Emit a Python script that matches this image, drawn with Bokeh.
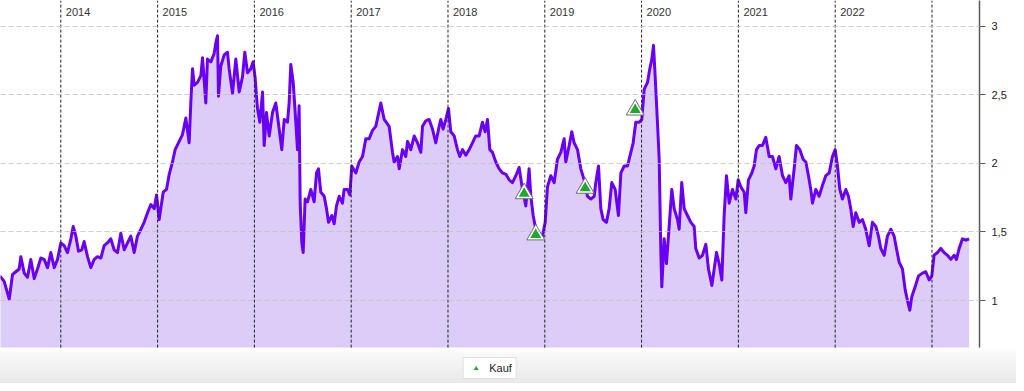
import pandas as pd
from bokeh.plotting import figure
from bokeh.models import (Range1d, FixedTicker, CustomJSTickFormatter,
                          Legend, LegendItem, ColumnDataSource)
from bokeh.core.properties import value
from bokeh.embed import file_html
from bokeh.resources import INLINE

# ---- data (time as decimal year, price) ----
times = [
    2013.370, 2013.415, 2013.467, 2013.484, 2013.501, 2013.535, 2013.570, 2013.587, 2013.622, 2013.656,
    2013.690, 2013.725, 2013.759, 2013.794, 2013.828, 2013.863, 2013.897, 2013.932, 2013.966, 2014.000,
    2014.035, 2014.069, 2014.104, 2014.128, 2014.155, 2014.183, 2014.217, 2014.241, 2014.276, 2014.310,
    2014.345, 2014.379, 2014.414, 2014.448, 2014.482, 2014.517, 2014.551, 2014.586, 2014.620, 2014.655,
    2014.689, 2014.723, 2014.758, 2014.792, 2014.827, 2014.861, 2014.896, 2014.930, 2014.965, 2014.989,
    2015.016, 2015.058, 2015.092, 2015.120, 2015.154, 2015.181, 2015.223, 2015.257, 2015.292, 2015.326,
    2015.343, 2015.361, 2015.378, 2015.412, 2015.447, 2015.464, 2015.498, 2015.515, 2015.550, 2015.584,
    2015.602, 2015.619, 2015.629, 2015.653, 2015.688, 2015.722, 2015.739, 2015.774, 2015.808, 2015.843,
    2015.877, 2015.901, 2015.929, 2015.963, 2015.987, 2016.008, 2016.032, 2016.056, 2016.084, 2016.101,
    2016.125, 2016.153, 2016.187, 2016.221, 2016.256, 2016.283, 2016.308, 2016.342, 2016.359, 2016.376,
    2016.401, 2016.428, 2016.445, 2016.462, 2016.473, 2016.490, 2016.504, 2016.524, 2016.549, 2016.583,
    2016.617, 2016.642, 2016.662, 2016.686, 2016.721, 2016.745, 2016.766, 2016.800, 2016.824, 2016.848,
    2016.876, 2016.910, 2016.927, 2016.962, 2016.986, 2017.006, 2017.048, 2017.082, 2017.117, 2017.151,
    2017.186, 2017.220, 2017.254, 2017.306, 2017.341, 2017.392, 2017.427, 2017.444, 2017.478, 2017.496,
    2017.530, 2017.564, 2017.582, 2017.616, 2017.651, 2017.685, 2017.719, 2017.737, 2017.771, 2017.805,
    2017.840, 2017.874, 2017.909, 2017.926, 2017.950, 2017.978, 2018.005, 2018.029, 2018.064, 2018.098,
    2018.122, 2018.150, 2018.184, 2018.219, 2018.253, 2018.287, 2018.322, 2018.356, 2018.384, 2018.408,
    2018.432, 2018.460, 2018.494, 2018.529, 2018.563, 2018.598, 2018.632, 2018.666, 2018.701, 2018.735,
    2018.770, 2018.804, 2018.838, 2018.856, 2018.880, 2018.907, 2018.942, 2018.976, 2019.004, 2019.028,
    2019.062, 2019.097, 2019.131, 2019.166, 2019.200, 2019.217, 2019.252, 2019.279, 2019.303, 2019.338,
    2019.372, 2019.407, 2019.441, 2019.476, 2019.510, 2019.527, 2019.555, 2019.579, 2019.603, 2019.637,
    2019.665, 2019.692, 2019.727, 2019.761, 2019.786, 2019.820, 2019.854, 2019.889, 2019.913, 2019.940,
    2019.975, 2020.002, 2020.027, 2020.061, 2020.085, 2020.106, 2020.123, 2020.140, 2020.157, 2020.182,
    2020.199, 2020.209, 2020.233, 2020.257, 2020.285, 2020.312, 2020.337, 2020.371, 2020.388, 2020.415,
    2020.440, 2020.474, 2020.509, 2020.543, 2020.560, 2020.595, 2020.629, 2020.664, 2020.691, 2020.726,
    2020.750, 2020.774, 2020.801, 2020.829, 2020.853, 2020.877, 2020.905, 2020.939, 2020.974, 2020.998,
    2021.025, 2021.060, 2021.077, 2021.104, 2021.139, 2021.163, 2021.187, 2021.215, 2021.249, 2021.283,
    2021.318, 2021.352, 2021.387, 2021.421, 2021.456, 2021.490, 2021.524, 2021.542, 2021.576, 2021.600,
    2021.635, 2021.669, 2021.697, 2021.724, 2021.748, 2021.766, 2021.800, 2021.834, 2021.869, 2021.903,
    2021.938, 2021.972, 2022.000, 2022.024, 2022.048, 2022.075, 2022.110, 2022.137, 2022.161, 2022.186,
    2022.213, 2022.248, 2022.282, 2022.316, 2022.351, 2022.385, 2022.420, 2022.447, 2022.471, 2022.506,
    2022.540, 2022.575, 2022.609, 2022.633, 2022.661, 2022.695, 2022.723, 2022.747, 2022.771, 2022.792,
    2022.826, 2022.861, 2022.902, 2022.936, 2022.971, 2022.998, 2023.022, 2023.057, 2023.091, 2023.126,
    2023.160, 2023.195, 2023.229, 2023.253, 2023.281, 2023.315, 2023.350, 2023.384,
]
prices = [
    1.18, 1.14, 1.01, 1.10, 1.19, 1.21, 1.23, 1.32, 1.20, 1.17,
    1.30, 1.16, 1.23, 1.31, 1.30, 1.24, 1.35, 1.24, 1.30, 1.42,
    1.40, 1.35, 1.45, 1.54, 1.47, 1.36, 1.37, 1.43, 1.32, 1.24,
    1.30, 1.32, 1.31, 1.40, 1.42, 1.45, 1.37, 1.35, 1.49, 1.37,
    1.42, 1.47, 1.35, 1.47, 1.52, 1.57, 1.64, 1.70, 1.67, 1.77,
    1.59, 1.79, 1.81, 1.92, 2.01, 2.10, 2.16, 2.21, 2.33, 2.15,
    2.44, 2.69, 2.57, 2.59, 2.64, 2.77, 2.44, 2.76, 2.74, 2.80,
    2.88, 2.93, 2.49, 2.71, 2.79, 2.81, 2.69, 2.51, 2.76, 2.52,
    2.63, 2.81, 2.66, 2.69, 2.74, 2.62, 2.40, 2.30, 2.52, 2.13,
    2.37, 2.20, 2.37, 2.44, 2.25, 2.10, 2.32, 2.30, 2.44, 2.72,
    2.59, 2.30, 2.10, 2.42, 1.71, 1.42, 1.35, 1.74, 1.72, 1.81,
    1.72, 1.93, 1.96, 1.79, 1.76, 1.67, 1.57, 1.62, 1.56, 1.69,
    1.76, 1.71, 1.81, 1.81, 1.77, 1.98, 1.93, 2.01, 2.05, 2.18,
    2.18, 2.24, 2.27, 2.44, 2.32, 2.27, 2.08, 2.01, 2.05, 1.96,
    2.10, 2.05, 2.16, 2.10, 2.20, 2.15, 2.08, 2.27, 2.31, 2.32,
    2.25, 2.15, 2.27, 2.32, 2.25, 2.32, 2.40, 2.23, 2.20, 2.10,
    2.05, 2.10, 2.06, 2.10, 2.15, 2.20, 2.20, 2.30, 2.23, 2.32,
    2.10, 2.08, 2.01, 1.96, 1.93, 1.92, 1.88, 1.86, 1.91, 1.97,
    1.81, 1.69, 1.96, 1.76, 1.62, 1.52, 1.47, 1.47, 1.57, 1.83,
    1.91, 1.86, 2.03, 2.08, 2.18, 2.01, 2.13, 2.23, 2.15, 2.10,
    1.96, 1.88, 1.76, 1.74, 1.76, 1.86, 1.98, 1.67, 1.59, 1.57,
    1.67, 1.86, 1.81, 1.62, 1.93, 1.98, 1.98, 2.08, 2.15, 2.30,
    2.30, 2.32, 2.54, 2.59, 2.69, 2.76, 2.86, 2.64, 2.40, 2.03,
    1.35, 1.10, 1.45, 1.27, 1.54, 1.81, 1.67, 1.59, 1.52, 1.86,
    1.67, 1.62, 1.57, 1.54, 1.38, 1.31, 1.33, 1.41, 1.23, 1.11,
    1.23, 1.35, 1.27, 1.15, 1.62, 1.91, 1.71, 1.81, 1.74, 1.88,
    1.83, 1.79, 1.64, 1.88, 1.93, 1.98, 2.10, 2.13, 2.13, 2.19,
    2.05, 2.05, 1.96, 2.05, 1.91, 1.86, 1.91, 1.74, 1.96, 2.13,
    2.10, 2.03, 2.01, 1.91, 1.81, 1.71, 1.81, 1.76, 1.84, 1.91,
    1.93, 2.05, 2.10, 1.98, 1.81, 1.74, 1.81, 1.76, 1.67, 1.54,
    1.64, 1.57, 1.59, 1.52, 1.40, 1.57, 1.54, 1.47, 1.38, 1.33,
    1.47, 1.52, 1.47, 1.38, 1.28, 1.23, 1.08, 1.00, 0.93, 1.03,
    1.10, 1.18, 1.20, 1.21, 1.15, 1.18, 1.33, 1.35, 1.38, 1.35,
    1.33, 1.30, 1.33, 1.30, 1.38, 1.45, 1.44, 1.45,
]

# Buy signals ("Kauf")
buy_times = [2018.787, 2018.907, 2019.417, 2019.934]
buy_prices = [1.78, 1.48, 1.82, 2.39]

# Year separators and labels
year_lines = [2014, 2015, 2016, 2017, 2018, 2019, 2020, 2021, 2022, 2023]
year_labels = ["2014", "2015", "2016", "2017", "2018", "2019", "2020", "2021", "2022"]

y_ticks = [1, 1.5, 2, 2.5, 3]


def to_dt(t):
    return pd.Timestamp("2014-01-01") + pd.to_timedelta((t - 2014) * 365.25, unit="D")


dates = [to_dt(t) for t in times]
buy_dates = [to_dt(t) for t in buy_times]

FONT = "Liberation Sans"
Y_TOP = 3.187      # top of plotting area
Y_BASE = 0.657     # bottom of plotting area (above legend band)
Y_LOW = 0.3955     # bottom of the frame (includes legend band)

p = figure(width=1016, height=383, output_backend="svg", toolbar_location=None,
           x_axis_type="datetime", x_axis_location=None, y_axis_location="right",
           x_range=Range1d(to_dt(2013.377), to_dt(2023.491)),
           y_range=Range1d(Y_LOW, Y_TOP),
           min_border_left=0, min_border_top=0, min_border_right=37, min_border_bottom=0)

p.outline_line_color = None
p.background_fill_alpha = 0
p.border_fill_alpha = 0
p.styles = {"background": "linear-gradient(to bottom, #ffffff 0px, #ffffff 348px, #f8f8f8 354px, #e9e9e9 383px)"}

p.xgrid.visible = False
p.ygrid.ticker = FixedTicker(ticks=y_ticks)
p.ygrid.grid_line_color = "#bdbdbd"
p.ygrid.grid_line_alpha = 0.75
p.ygrid.grid_line_dash = "5 3"
p.ygrid.level = "guide"

ax = p.yaxis[0]
ax.ticker = FixedTicker(ticks=y_ticks)
ax.bounds = (Y_BASE, Y_TOP)
ax.formatter = CustomJSTickFormatter(code="return String(tick).replace('.', ',');")
ax.axis_line_color = "#5a5a5a"
ax.axis_line_width = 1.5
ax.major_tick_line_color = "#5a5a5a"
ax.major_tick_out = 6
ax.major_tick_in = 0
ax.minor_tick_line_color = None
ax.major_label_text_font = FONT
ax.major_label_text_font_size = "11px"
ax.major_label_text_color = "#222222"
ax.major_label_standoff = 6

src = ColumnDataSource(dict(x=dates, y=prices))
p.varea(x="x", y1=Y_BASE, y2="y", source=src, fill_color="#ddccf8", fill_alpha=1.0)
p.line(x="x", y="y", source=src, line_color="#6a00f2", line_width=3, line_join="round")

yl = [to_dt(y) for y in year_lines]
p.segment(x0=yl, y0=Y_BASE, x1=yl, y1=Y_TOP, line_color="#222222",
          line_dash="3 2", line_width=1)

p.text(x=[to_dt(int(s)) for s in year_labels], y=3.1, text=year_labels, x_offset=5,
       text_font=value(FONT), text_font_size="11px", text_color="#333333",
       text_baseline="middle", text_align="left")

bsrc = ColumnDataSource(dict(x=buy_dates, y=buy_prices))
outline = p.scatter(x="x", y="y", source=bsrc, marker="triangle", size=18,
                    fill_color="white", line_color="#6e6e6e", line_width=1)
green = p.scatter(x="x", y="y", source=bsrc, marker="triangle", size=11,
                  fill_color="#1fa82e", line_color=None)

legend = Legend(items=[LegendItem(label="Kauf", renderers=[green])],
                orientation="horizontal", location="bottom_center",
                border_line_color="#c2c2c2", background_fill_color="white",
                background_fill_alpha=1.0,
                label_text_font=FONT, label_text_font_size="11px", label_text_color="#222222",
                glyph_height=12, glyph_width=16, label_height=12, label_standoff=6,
                padding=4, margin=4, spacing=0)
p.add_layout(legend, "center")

open("out.html", "w").write(file_html(p, INLINE))
